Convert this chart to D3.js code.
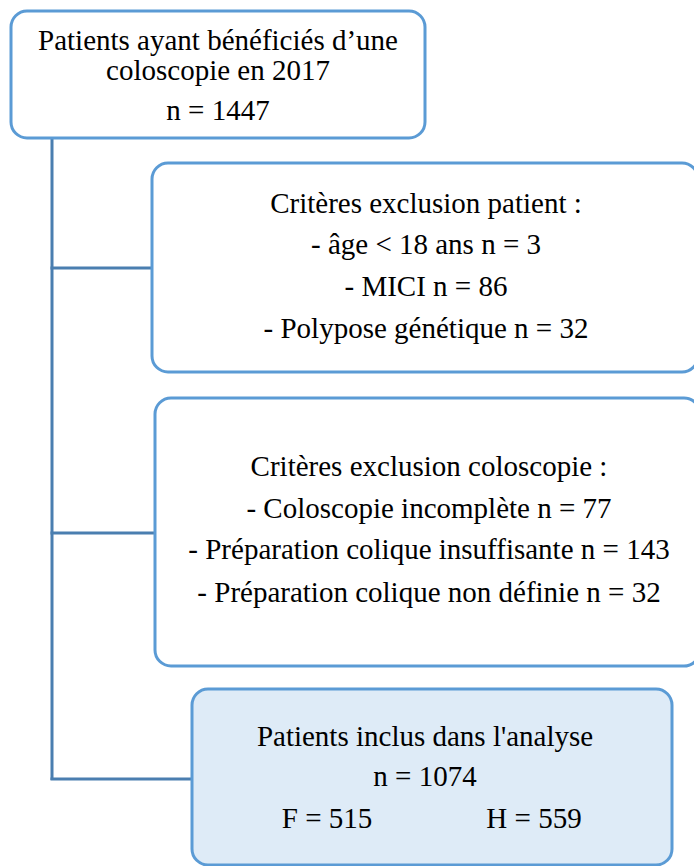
<!DOCTYPE html>
<html>
<head>
<meta charset="utf-8">
<script src="https://cdn.jsdelivr.net/npm/d3@7"></script>
<style>
  body { margin: 0; background: #fff; }
  svg { display: block; }
</style>
</head>
<body>
<svg id="chart"></svg>
<script>
// texts of each step
const startLines = ["Patients ayant bénéficiés d\u2019une", "coloscopie en 2017", "n = 1447"];
const patientLines = ["Critères exclusion patient :", "- âge < 18 ans n = 3", "- MICI n = 86", "- Polypose génétique n = 32"];
const coloLines = ["Critères exclusion coloscopie :", "- Coloscopie incomplète n = 77", "- Préparation colique insuffisante n = 143", "- Préparation colique non définie n = 32"];
const includedLines = ["Patients inclus dans l'analyse", "n = 1074"];
const sexLabels = ["F = 515", "H = 559"];

const width = 694, height = 866;
const font = '"Liberation Serif"';
const fontSize = "29px";
const svg = d3.select("#chart").attr("width", width).attr("height", height);

// layout of boxes (pixels)
const boxes = [
    {lines: startLines, x: 11, y: 11, w: 414, h: 127, fill: "#fff", baselines: [50, 80, 120], cx: 218},
    {lines: patientLines, x: 152, y: 163, w: 546, h: 209, fill: "#fff", baselines: [213, 254, 296, 338], cx: 426},
    {lines: coloLines, x: 155, y: 398, w: 545, h: 268, fill: "#fff", baselines: [476, 518, 559, 602], cx: 429},
    {lines: includedLines, x: 192, y: 689, w: 480, h: 176, fill: "#deebf7", baselines: [746, 786], cx: 425}
];

const stroke = "#5b9bd5";
const lineColor = "#4a7eb0";
const spineX = 52;

// connectors
const links = [268, 533, 779];
svg.append("line")
    .attr("x1", spineX).attr("x2", spineX)
    .attr("y1", 138).attr("y2", links[2] + 1)
    .attr("stroke", lineColor).attr("stroke-width", 3);

svg.selectAll(".link")
    .data(links)
    .join("line")
    .attr("class", "link")
    .attr("x1", spineX - 1.5)
    .attr("x2", (d, i) => boxes[i + 1].x)
    .attr("y1", d => d).attr("y2", d => d)
    .attr("stroke", lineColor).attr("stroke-width", 3);

// boxes
const g = svg.selectAll(".box")
    .data(boxes)
    .join("g")
    .attr("class", "box");

g.append("rect")
    .attr("x", d => d.x).attr("y", d => d.y)
    .attr("width", d => d.w).attr("height", d => d.h)
    .attr("rx", 16).attr("ry", 16)
    .attr("fill", d => d.fill)
    .attr("stroke", stroke).attr("stroke-width", 3);

g.each(function(d) {
    d3.select(this).selectAll("text")
        .data(d.lines)
        .join("text")
        .attr("x", d.cx)
        .attr("y", (t, i) => d.baselines[i])
        .attr("text-anchor", "middle")
        .style("font-family", font)
        .style("font-size", fontSize)
        .attr("fill", "#000")
        .text(t => t);
});

// F / H split
const sexX = d3.scalePoint().domain(sexLabels).range([327, 534]);
svg.selectAll(".sex")
    .data(sexLabels)
    .join("text")
    .attr("class", "sex")
    .attr("x", d => sexX(d))
    .attr("y", 828)
    .attr("text-anchor", "middle")
    .style("font-family", font)
    .style("font-size", fontSize)
    .attr("fill", "#000")
    .text(d => d);
</script>
</body>
</html>
